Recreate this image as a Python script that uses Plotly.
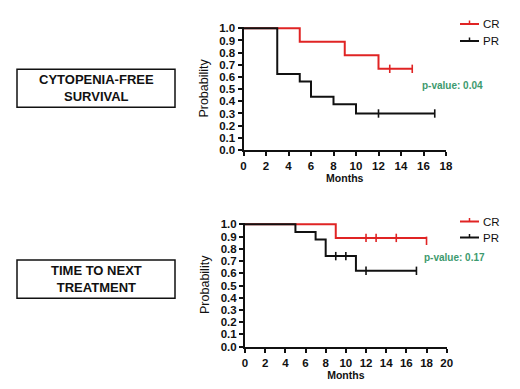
import plotly.graph_objects as go

# ---- Data: Cytopenia-free survival ----
cfs_cr_months = [0, 5, 9, 12, 15]
cfs_cr_prob = [1.0, 0.889, 0.778, 0.667, 0.667]
cfs_cr_censor_months = [13, 15]
cfs_cr_censor_prob = [0.667, 0.667]

cfs_pr_months = [0, 3, 5, 6, 8, 10, 17]
cfs_pr_prob = [1.0, 0.625, 0.5625, 0.4375, 0.375, 0.30, 0.30]
cfs_pr_censor_months = [12, 17]
cfs_pr_censor_prob = [0.30, 0.30]

# ---- Data: Time to next treatment ----
ttnt_cr_months = [0, 9, 18]
ttnt_cr_prob = [1.0, 0.889, 0.889]
ttnt_cr_censor_months = [12, 13, 15, 18]
ttnt_cr_censor_prob = [0.889, 0.889, 0.889, 0.865]

ttnt_pr_months = [0, 5, 7, 8, 11, 17]
ttnt_pr_prob = [1.0, 0.9375, 0.875, 0.74, 0.62, 0.62]
ttnt_pr_censor_months = [9, 10, 12, 17]
ttnt_pr_censor_prob = [0.74, 0.74, 0.62, 0.62]

y_ticks = [0.0, 0.1, 0.2, 0.3, 0.4, 0.5, 0.6, 0.7, 0.8, 0.9, 1.0]
y_tick_labels = ["0.0", "0.1", "0.2", "0.3", "0.4", "0.5", "0.6", "0.7", "0.8", "0.9", "1.0"]
x_ticks_top = [0, 2, 4, 6, 8, 10, 12, 14, 16, 18]
x_ticks_bottom = [0, 2, 4, 6, 8, 10, 12, 14, 16, 18, 20]

p_value_top = "p-value: 0.04"
p_value_bottom = "p-value: 0.17"

RED = "#e02424"
BLACK = "#111111"
GREEN = "#3d9a6e"
FONT = "Liberation Sans, Arial, sans-serif"

fig = go.Figure()


def add_curve(t, s, ct, cs, color, xa, ya):
    fig.add_trace(go.Scatter(x=t, y=s, mode="lines", line=dict(color=color, width=2, shape="hv"),
                             xaxis=xa, yaxis=ya, showlegend=False, cliponaxis=False, hoverinfo="skip"))
    fig.add_trace(go.Scatter(x=ct, y=cs, mode="markers",
                             marker=dict(symbol="line-ns", size=6, line=dict(color=color, width=1.6)),
                             xaxis=xa, yaxis=ya, showlegend=False, cliponaxis=False, hoverinfo="skip"))


add_curve(cfs_cr_months, cfs_cr_prob, cfs_cr_censor_months, cfs_cr_censor_prob, RED, "x", "y")
add_curve(cfs_pr_months, cfs_pr_prob, cfs_pr_censor_months, cfs_pr_censor_prob, BLACK, "x", "y")
add_curve(ttnt_cr_months, ttnt_cr_prob, ttnt_cr_censor_months, ttnt_cr_censor_prob, RED, "x2", "y2")
add_curve(ttnt_pr_months, ttnt_pr_prob, ttnt_pr_censor_months, ttnt_pr_censor_prob, BLACK, "x2", "y2")

# The page body has an 8px margin; the figure is sized to fill the rest of the window.
OFF = 8
W, H = 520 - OFF, 389 - OFF


def px(x):
    return (x - OFF) / W


def py(y):
    return 1 - (y - OFF) / H


YTOP = 1.012  # a little headroom so the 1.0 plateau is not clipped

axis_common = dict(showline=True, linecolor=BLACK, linewidth=2, ticks="outside", ticklen=4,
                   tickwidth=1.5, tickcolor=BLACK, showgrid=False, zeroline=False, automargin=False,
                   tickfont=dict(family=FONT, size=11.5, color=BLACK, weight="bold"))

top_y0, top_y1 = 150.0, 28.3
bot_y0, bot_y1 = 346.7, 224.3
top_ext = (top_y0 - top_y1) * (YTOP - 1)
bot_ext = (bot_y0 - bot_y1) * (YTOP - 1)

fig.update_layout(
    template="none",
    width=W, height=H,
    margin=dict(l=0, r=0, t=0, b=0),
    paper_bgcolor="white", plot_bgcolor="white",
    xaxis=dict(domain=[px(243.5), px(446)], range=[0, 18], tickvals=x_ticks_top, anchor="y",
               title=dict(text="<b>Months</b>", font=dict(family=FONT, size=10.5, color=BLACK), standoff=4),
               **axis_common),
    yaxis=dict(domain=[py(top_y0), py(top_y1 - top_ext)], range=[0, YTOP], tickvals=y_ticks,
               ticktext=y_tick_labels, anchor="x",
               title=dict(text="Probability", font=dict(family=FONT, size=12.5, color=BLACK), standoff=8),
               **axis_common),
    xaxis2=dict(domain=[px(245), px(446.7)], range=[0, 20], tickvals=x_ticks_bottom, anchor="y2",
                title=dict(text="<b>Months</b>", font=dict(family=FONT, size=10.5, color=BLACK), standoff=4),
                **axis_common),
    yaxis2=dict(domain=[py(bot_y0), py(bot_y1 - bot_ext)], range=[0, YTOP], tickvals=y_ticks,
                ticktext=y_tick_labels, anchor="x2",
                title=dict(text="Probability", font=dict(family=FONT, size=12.5, color=BLACK), standoff=8),
                **axis_common),
)

shapes = []
annotations = []

# Left boxed labels
for (y0, y1, txt) in [(69.3, 107.3, "CYTOPENIA-FREE<br>SURVIVAL"), (260, 298.3, "TIME TO NEXT<br>TREATMENT")]:
    shapes.append(dict(type="rect", xref="paper", yref="paper", x0=px(17), x1=px(175), y0=py(y1), y1=py(y0),
                       line=dict(color=BLACK, width=1.5), fillcolor="rgba(0,0,0,0)"))
    annotations.append(dict(xref="paper", yref="paper", x=px(96), y=py((y0 + y1) / 2), text="<b>" + txt + "</b>",
                            showarrow=False, font=dict(family=FONT, size=13, color=BLACK), align="center",
                            xanchor="center", yanchor="middle"))

# Legends (drawn as decoration)
for (ly, color, label) in [(24, RED, "CR"), (41, BLACK, "PR"), (221.5, RED, "CR"), (237.5, BLACK, "PR")]:
    shapes.append(dict(type="line", xref="paper", yref="paper", x0=px(460), x1=px(479), y0=py(ly), y1=py(ly),
                       line=dict(color=color, width=2)))
    shapes.append(dict(type="line", xref="paper", yref="paper", x0=px(469.5), x1=px(469.5), y0=py(ly), y1=py(ly - 3.5),
                       line=dict(color=color, width=1.5)))
    annotations.append(dict(xref="paper", yref="paper", x=px(481), y=py(ly), text=label, showarrow=False,
                            font=dict(family=FONT, size=11.5, color=BLACK), xanchor="left", yanchor="middle"))

# p-values
annotations.append(dict(xref="paper", yref="paper", x=px(420), y=py(86), text="<b>" + p_value_top + "</b>",
                        showarrow=False, font=dict(family=FONT, size=10, color=GREEN), xanchor="left", yanchor="middle"))
annotations.append(dict(xref="paper", yref="paper", x=px(422), y=py(257.5), text="<b>" + p_value_bottom + "</b>",
                        showarrow=False, font=dict(family=FONT, size=10, color=GREEN), xanchor="left", yanchor="middle"))

fig.update_layout(shapes=shapes, annotations=annotations)

fig.write_html("out.html")
